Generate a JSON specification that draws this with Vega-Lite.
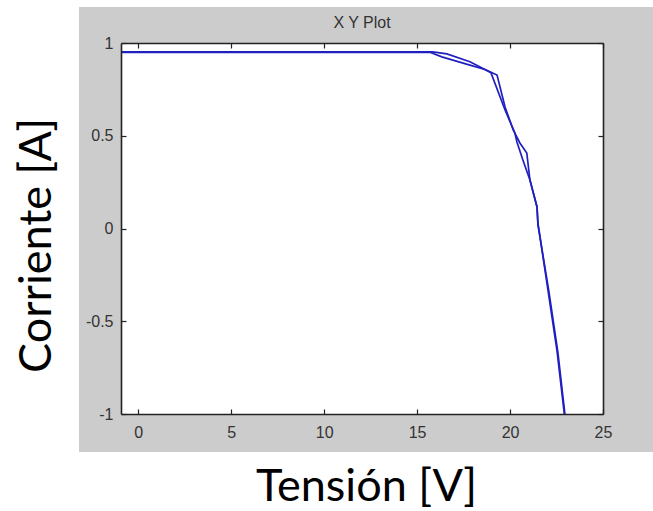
{
  "$schema": "https://vega.github.io/schema/vega-lite/v6.json",
  "width": 482,
  "height": 371,
  "autosize": "none",
  "padding": {"left": 121, "top": 43, "right": 50, "bottom": 97},
  "background": "white",
  "config": {"view": {"stroke": null}, "font": "Liberation Sans"},
  "title": {"text": "X Y Plot", "fontSize": 16, "fontWeight": "normal", "color": "#333333", "font": "Liberation Sans", "offset": -24, "anchor": "middle", "frame": "group"},
  "data": {"values": [
    {"serie": "A", "V": -1, "I": 0.952},
    {"serie": "A", "V": 15.84, "I": 0.952},
    {"serie": "A", "V": 16.6, "I": 0.941},
    {"serie": "A", "V": 17.84, "I": 0.899},
    {"serie": "A", "V": 18.65, "I": 0.857},
    {"serie": "A", "V": 19.3, "I": 0.827},
    {"serie": "A", "V": 19.73, "I": 0.655},
    {"serie": "A", "V": 20.17, "I": 0.531},
    {"serie": "A", "V": 20.53, "I": 0.461},
    {"serie": "A", "V": 20.9, "I": 0.407},
    {"serie": "A", "V": 21.07, "I": 0.261},
    {"serie": "A", "V": 21.45, "I": 0.116},
    {"serie": "A", "V": 21.5, "I": 0.03},
    {"serie": "A", "V": 22.04, "I": -0.332},
    {"serie": "A", "V": 22.52, "I": -0.655},
    {"serie": "A", "V": 22.92, "I": -1.0},
    {"serie": "B", "V": -1, "I": 0.95},
    {"serie": "B", "V": 15.69, "I": 0.95},
    {"serie": "B", "V": 16.33, "I": 0.925},
    {"serie": "B", "V": 17.84, "I": 0.881},
    {"serie": "B", "V": 18.65, "I": 0.857},
    {"serie": "B", "V": 18.97, "I": 0.84},
    {"serie": "B", "V": 19.73, "I": 0.639},
    {"serie": "B", "V": 20.26, "I": 0.515},
    {"serie": "B", "V": 20.37, "I": 0.466},
    {"serie": "B", "V": 20.69, "I": 0.369},
    {"serie": "B", "V": 21.07, "I": 0.261},
    {"serie": "B", "V": 21.45, "I": 0.116},
    {"serie": "B", "V": 21.5, "I": 0.02},
    {"serie": "B", "V": 22.09, "I": -0.34},
    {"serie": "B", "V": 22.57, "I": -0.665},
    {"serie": "B", "V": 22.95, "I": -1.0}
  ]},
  "resolve": {"axis": {"x": "independent", "y": "independent"}},
  "layer": [
    {
      "data": {"values": [{"panel": "fondo"}]},
      "mark": {"type": "rect", "color": "#cccccc", "clip": false},
      "encoding": {
        "x": {"datum": -3.19, "type": "quantitative", "scale": {"domain": [-0.93, 25], "nice": false, "zero": false}, "axis": null},
        "x2": {"datum": 28},
        "y": {"datum": 1.194, "type": "quantitative", "scale": {"domain": [-1, 1], "nice": false, "zero": false}, "axis": null},
        "y2": {"datum": -1.205}
      }
    },
    {
      "data": {"values": [{"panel": "area"}]},
      "mark": {"type": "rect", "color": "white", "clip": false},
      "encoding": {
        "x": {"datum": -0.93, "type": "quantitative", "scale": {"domain": [-0.93, 25], "nice": false, "zero": false},
          "axis": {"orient": "top", "values": [0, 5, 10, 15, 20, 25], "labels": false, "title": null, "grid": false, "tickSize": -5, "tickColor": "#222222", "tickWidth": 1.2, "domainColor": "#222222", "domainWidth": 1.6, "zindex": 1}},
        "x2": {"datum": 25},
        "y": {"datum": 1, "type": "quantitative", "scale": {"domain": [-1, 1], "nice": false, "zero": false},
          "axis": {"orient": "right", "values": [-1, -0.5, 0, 0.5, 1], "labels": false, "title": null, "grid": false, "tickSize": -5, "tickColor": "#222222", "tickWidth": 1.2, "domainColor": "#222222", "domainWidth": 1.6, "zindex": 1}},
        "y2": {"datum": -1}
      }
    },
    {
      "mark": {"type": "line", "color": "#2020c0", "strokeWidth": 1.7, "clip": true},
      "encoding": {
        "x": {"field": "V", "type": "quantitative", "scale": {"domain": [-0.93, 25], "nice": false, "zero": false},
          "axis": {"orient": "bottom", "values": [0, 5, 10, 15, 20, 25], "title": "Tensión [V]", "grid": false,
            "tickSize": -5, "tickColor": "#222222", "tickWidth": 1.2, "domainColor": "#222222", "domainWidth": 1.6,
            "labelPadding": 15, "labelFont": "Liberation Sans", "labelFontSize": 16, "labelColor": "#333333", "labelFlush": false,
            "labelExpr": "'' + datum.value",
            "titleFont": "Lato", "titleFontSize": 45, "titleFontWeight": "normal", "titleColor": "black",
            "titleX": 245, "titleY": 72, "titleBaseline": "middle", "titleAlign": "center", "zindex": 1}},
        "y": {"field": "I", "type": "quantitative", "scale": {"domain": [-1, 1], "nice": false, "zero": false},
          "axis": {"orient": "left", "values": [-1, -0.5, 0, 0.5, 1], "title": "Corriente [A]", "grid": false,
            "tickSize": -5, "tickColor": "#222222", "tickWidth": 1.2, "domainColor": "#222222", "domainWidth": 1.6,
            "labelPadding": 13, "labelFont": "Liberation Sans", "labelFontSize": 16, "labelColor": "#333333", "labelFlush": false,
            "labelExpr": "'' + datum.value",
            "titleFont": "Lato", "titleFontSize": 45, "titleFontWeight": "normal", "titleColor": "black",
            "titleAngle": -90, "titleX": -85, "titleY": 202, "titleBaseline": "middle", "titleAlign": "center", "zindex": 1}},
        "detail": {"field": "serie", "type": "nominal"}
      }
    }
  ]
}
